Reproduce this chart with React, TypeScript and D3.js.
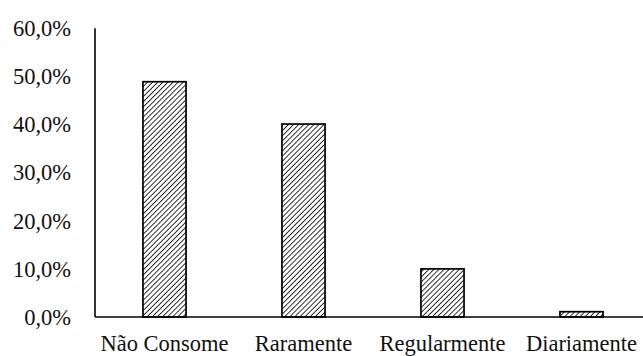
import React from "react";
import * as d3 from "d3";

const categories = ["Não Consome", "Raramente", "Regularmente", "Diariamente"];
const values = [48.9, 40.1, 10.0, 1.1];
const yTicks = [0, 10, 20, 30, 40, 50, 60];

const W = 643;
const H = 356;
const left = 95;
const top = 28.3;
const baseline = 317;
const bandWidth = 139;

export default function App() {
  const x = d3
    .scaleBand<string>()
    .domain(categories)
    .range([left, left + bandWidth * categories.length])
    .paddingInner(0.69)
    .paddingOuter(0.345);
  const y = d3.scaleLinear().domain([0, 60]).range([baseline, top]);
  const fmt = (v: number) => v.toFixed(1).replace(".", ",") + "%";
  const font = "'Liberation Serif', 'Times New Roman', serif";

  return (
    <svg
      width={W}
      height={H}
      style={{ position: "absolute", left: 0, top: 0, background: "#fff" }}
    >
      <defs>
        <pattern
          id="hatch"
          patternUnits="userSpaceOnUse"
          width={3.6}
          height={3.6}
          patternTransform="rotate(45)"
        >
          <rect width={3.6} height={3.6} fill="#fff" />
          <line x1={0} y1={0} x2={0} y2={3.6} stroke="#000" strokeWidth={1.6} />
        </pattern>
      </defs>

      {yTicks.map((t) => (
        <text
          key={t}
          x={71}
          y={y(t) + 7.8}
          textAnchor="end"
          fontFamily={font}
          fontSize={22.5}
          fill="#111"
        >
          {fmt(t)}
        </text>
      ))}

      {categories.map((c, i) => (
        <rect
          key={c}
          x={x(c)}
          y={y(values[i])}
          width={x.bandwidth()}
          height={baseline - y(values[i])}
          fill="url(#hatch)"
          stroke="#000"
          strokeWidth={1.7}
        />
      ))}

      <line x1={left} x2={left} y1={top} y2={baseline} stroke="#000" strokeWidth={1.6} />
      <line x1={left} x2={W} y1={baseline} y2={baseline} stroke="#000" strokeWidth={1.6} />

      {categories.map((c) => (
        <text
          key={c}
          x={(x(c) ?? 0) + x.bandwidth() / 2}
          y={351}
          textAnchor="middle"
          fontFamily={font}
          fontSize={22.5}
          fill="#111"
        >
          {c}
        </text>
      ))}
    </svg>
  );
}
